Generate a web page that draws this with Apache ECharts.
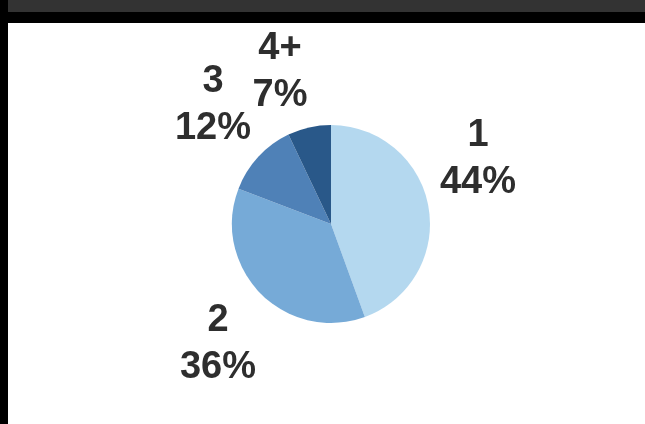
<!DOCTYPE html>
<html>
<head>
<meta charset="utf-8">
<script src="https://cdn.jsdelivr.net/npm/echarts@6/dist/echarts.min.js"></script>
<style>
  html, body { margin: 0; padding: 0; width: 645px; height: 424px; overflow: hidden; background: #000; }
  #topband { position: absolute; left: 8px; top: 0; width: 637px; height: 12px; background: #333; }
  #chart { position: absolute; left: 8px; top: 23px; width: 637px; height: 401px; background: #fff; }
</style>
</head>
<body>
<div id="topband"></div>
<div id="chart"></div>
<script>
// Data
const categories = ['1', '2', '3', '4+'];
const percents = [44, 36, 12, 7];
const sliceColors = ['#b4d8ef', '#76aad7', '#4f81b7', '#295889'];

// Layout (text placement, in chart pixels)
const pieCenter = [323, 201];
const pieRadius = 99;
const labelCenters = [[470, 136], [210, 321], [205, 82], [272, 49]];

const chart = echarts.init(document.getElementById('chart'));
chart.setOption({
  backgroundColor: '#fff',
  animation: false,
  series: [{
    type: 'pie',
    center: pieCenter,
    radius: pieRadius,
    startAngle: 90,
    clockwise: true,
    data: categories.map((c, i) => ({ name: c, value: percents[i], itemStyle: { color: sliceColors[i] } })),
    itemStyle: { borderWidth: 0 },
    label: {
      show: true,
      position: 'outside',
      formatter: p => p.name + '\n' + p.value + '%',
      fontFamily: 'Liberation Sans, Arial, sans-serif',
      fontWeight: 'bold',
      fontSize: 38,
      lineHeight: 47,
      color: '#2e2e2e',
      align: 'center'
    },
    labelLine: { show: false },
    labelLayout: function (params) {
      const pos = labelCenters[params.dataIndex];
      return { x: pos[0], y: pos[1], align: 'center', verticalAlign: 'middle' };
    },
    emphasis: { disabled: true }
  }]
});
</script>
</body>
</html>
